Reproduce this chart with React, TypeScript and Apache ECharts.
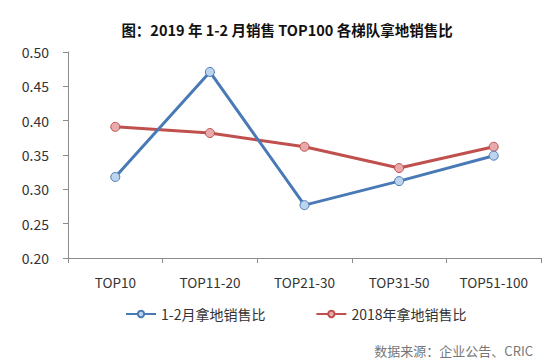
import React, { useEffect, useRef } from "react";
import * as echarts from "echarts";

const categories = ["TOP10", "TOP11-20", "TOP21-30", "TOP31-50", "TOP51-100"];
const series1Name = "1-2月拿地销售比";
const series1Values = [0.318, 0.471, 0.277, 0.312, 0.349];
const series2Name = "2018年拿地销售比";
const series2Values = [0.391, 0.382, 0.362, 0.331, 0.362];
const titleText = "图：2019 年 1-2 月销售 TOP100 各梯队拿地销售比";
const sourceText = "数据来源：企业公告、CRIC";

const FONT = "'Noto Sans CJK SC', 'Noto Sans', sans-serif";

export default function App() {
  const ref = useRef<HTMLDivElement>(null);
  useEffect(() => {
    if (!ref.current) return;
    const chart = echarts.init(ref.current, null, { renderer: "svg" });
    chart.setOption({
      animation: false,
      backgroundColor: "#ffffff",
      title: {
        text: titleText,
        left: 282,
        textAlign: "center",
        top: 17,
        textStyle: { fontFamily: FONT, fontSize: 14.5, fontWeight: "bold", color: "#111" },
      },
      legend: {
        top: 302,
        left: 120,
        itemGap: 50,
        itemWidth: 30,
        itemHeight: 8,
        textStyle: { fontFamily: FONT, fontSize: 14, color: "#333" },
        data: [series1Name, series2Name],
      },
      graphic: [
        {
          type: "text",
          right: 21,
          bottom: 7,
          style: { text: sourceText, fontFamily: FONT, fontSize: 13, fill: "#777" },
        },
      ],
      grid: { left: 68, right: 13, top: 52, bottom: 106 },
      xAxis: {
        type: "category",
        data: categories,
        boundaryGap: true,
        axisLine: { lineStyle: { color: "#8c8c8c", width: 1 } },
        axisTick: { show: true, length: 5, lineStyle: { color: "#8c8c8c" } },
        axisLabel: { fontFamily: FONT, fontSize: 13.5, color: "#333", margin: 17 },
      },
      yAxis: {
        type: "value",
        min: 0.2,
        max: 0.5,
        interval: 0.05,
        axisLine: { show: true, lineStyle: { color: "#8c8c8c", width: 1 } },
        axisTick: { show: true, length: 5, lineStyle: { color: "#8c8c8c" } },
        splitLine: { show: false },
        axisLabel: {
          fontFamily: FONT,
          fontSize: 14,
          color: "#333",
          margin: 19,
          formatter: (v: number) => v.toFixed(2),
        },
      },
      series: [
        {
          name: series1Name,
          type: "line",
          data: series1Values,
          symbol: "circle",
          symbolSize: 9,
          lineStyle: { color: "#4a7ab5", width: 3 },
          itemStyle: { color: "#bcd4ee", borderColor: "#4a7ab5", borderWidth: 1 },
          z: 3,
        },
        {
          name: series2Name,
          type: "line",
          data: series2Values,
          symbol: "circle",
          symbolSize: 9,
          lineStyle: { color: "#c0504d", width: 3 },
          itemStyle: { color: "#e8aaaa", borderColor: "#c0504d", borderWidth: 1 },
          z: 2,
        },
      ],
    });
    return () => chart.dispose();
  }, []);
  return <div ref={ref} style={{ width: 554, height: 364, position: "absolute", left: 0, top: 0 }} />;
}
